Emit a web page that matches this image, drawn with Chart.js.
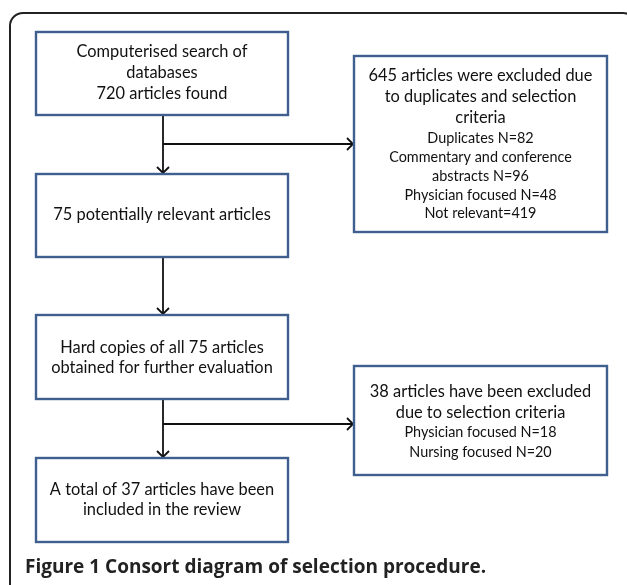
<!DOCTYPE html>
<html>
<head>
<meta charset="utf-8">
<script src="https://cdn.jsdelivr.net/npm/chart.js@4/dist/chart.umd.min.js"></script>
<style>
html,body{margin:0;padding:0;background:#fff;}
#wrap{width:627px;height:585px;position:relative;}
</style>
</head>
<body>
<div id="wrap"><canvas id="c" width="627" height="585"></canvas></div>
<script>
// ---- data ----
const totalFound = 720;
const firstExcluded = 645;
const firstReasons = ['Duplicates', 'Commentary and conference abstracts', 'Physician focused', 'Not relevant'];
const firstReasonCounts = [82, 96, 48, 419];
const potentiallyRelevant = 75;
const secondExcluded = 38;
const secondReasons = ['Physician focused', 'Nursing focused'];
const secondReasonCounts = [18, 20];
const included = 37;
const captionText = 'Figure 1 Consort diagram of selection procedure.';

// ---- text built from the data ----
const nodeTexts = [
  { big: ['Computerised search of', 'databases', totalFound + ' articles found'], small: [] },
  { big: [potentiallyRelevant + ' potentially relevant articles'], small: [] },
  { big: ['Hard copies of all ' + potentiallyRelevant + ' articles', 'obtained for further evaluation'], small: [] },
  { big: ['A total of ' + included + ' articles have been', 'included in the review'], small: [] },
  { big: [firstExcluded + ' articles were excluded due', 'to duplicates and selection', 'criteria'],
    small: ['Duplicates N=' + firstReasonCounts[0], 'Commentary and conference', 'abstracts N=' + firstReasonCounts[1],
            'Physician focused N=' + firstReasonCounts[2], 'Not relevant=' + firstReasonCounts[3]] },
  { big: [secondExcluded + ' articles have been excluded', 'due to selection criteria'],
    small: [secondReasons[0] + ' N=' + secondReasonCounts[0], secondReasons[1] + ' N=' + secondReasonCounts[1]] }
];

// ---- layout (diagram coordinates on the hidden linear scales) ----
const boxes = [
  { x0: 36, x1: 288, y0: 32, y1: 115, lines: [52, 73, 94] },
  { x0: 36, x1: 288, y0: 174, y1: 257, lines: [215] },
  { x0: 36, x1: 288, y0: 315, y1: 399, lines: [348, 368] },
  { x0: 36, x1: 288, y0: 458, y1: 542, lines: [490, 510] },
  { x0: 354, x1: 607, y0: 56, y1: 232, lines: [76, 97, 118, 138, 157, 176, 195, 213] },
  { x0: 354, x1: 607, y0: 366, y1: 475, lines: [392, 413, 432, 452] }
];
const trunkX = 163;
const branches = [{ y: 144, from: 0, to: 1, side: 4 }, { y: 424, from: 2, to: 3, side: 5 }];

const diagramPlugin = {
  id: 'diagram',
  afterDraw(chart) {
    const ctx = chart.ctx;
    const xs = chart.scales.x, ys = chart.scales.y;
    const px = v => xs.getPixelForValue(v);
    const py = v => ys.getPixelForValue(v);
    ctx.save();
    // outer frame
    ctx.strokeStyle = '#222';
    ctx.lineWidth = 2;
    ctx.beginPath();
    ctx.roundRect(px(10), py(13), px(636) - px(10), py(610) - py(13), 13);
    ctx.stroke();

    // arrows
    function arrowHead(x, y, dir) {
      const s = 6;
      ctx.beginPath();
      if (dir === 'down') { ctx.moveTo(x - s, y - s); ctx.lineTo(x, y); ctx.lineTo(x + s, y - s); }
      else { ctx.moveTo(x - s, y - s); ctx.lineTo(x, y); ctx.lineTo(x - s, y + s); }
      ctx.stroke();
    }
    ctx.strokeStyle = '#111';
    ctx.lineWidth = 1.8;
    const pairs = [[0, 1], [1, 2], [2, 3]];
    pairs.forEach(([a, b]) => {
      ctx.beginPath();
      ctx.moveTo(px(trunkX), py(boxes[a].y1));
      ctx.lineTo(px(trunkX), py(boxes[b].y0 - 1));
      ctx.stroke();
      arrowHead(px(trunkX), py(boxes[b].y0 - 1), 'down');
    });
    branches.forEach(br => {
      ctx.beginPath();
      ctx.moveTo(px(trunkX), py(br.y));
      ctx.lineTo(px(boxes[br.side].x0 - 1), py(br.y));
      ctx.stroke();
      arrowHead(px(boxes[br.side].x0 - 1), py(br.y), 'right');
    });

    // boxes
    boxes.forEach((b, i) => {
      ctx.fillStyle = '#fff';
      ctx.fillRect(px(b.x0), py(b.y0), px(b.x1) - px(b.x0), py(b.y1) - py(b.y0));
      ctx.strokeStyle = '#3F5F8E';
      ctx.lineWidth = 2.4;
      ctx.strokeRect(px(b.x0), py(b.y0), px(b.x1) - px(b.x0), py(b.y1) - py(b.y0));
      const t = nodeTexts[i];
      const all = t.big.map(s => ({ s, big: true })).concat(t.small.map(s => ({ s, big: false })));
      const cx = px((b.x0 + b.x1) / 2);
      ctx.fillStyle = '#111';
      ctx.textAlign = 'center';
      ctx.textBaseline = 'middle';
      all.forEach((ln, k) => {
        ctx.font = ln.big ? '16.4px Lato' : '14.4px Lato';
        ctx.fillText(ln.s, cx, py(b.lines[k]));
      });
    });

    // caption
    ctx.fillStyle = '#222';
    ctx.textAlign = 'left';
    ctx.textBaseline = 'alphabetic';
    ctx.font = 'bold 19px "Open Sans"';
    ctx.fillText(captionText, px(25), py(573));
    ctx.restore();
  }
};

new Chart(document.getElementById('c'), {
  type: 'scatter',
  data: { datasets: [{ data: boxes.map(b => ({ x: (b.x0 + b.x1) / 2, y: (b.y0 + b.y1) / 2 })), pointRadius: 0 }] },
  options: {
    responsive: false,
    animation: false,
    events: [],
    layout: { padding: 0 },
    plugins: { legend: { display: false }, tooltip: { enabled: false } },
    scales: {
      x: { type: 'linear', min: 0, max: 627, display: false },
      y: { type: 'linear', min: 0, max: 585, reverse: true, display: false }
    }
  },
  plugins: [diagramPlugin]
});
</script>
</body>
</html>
